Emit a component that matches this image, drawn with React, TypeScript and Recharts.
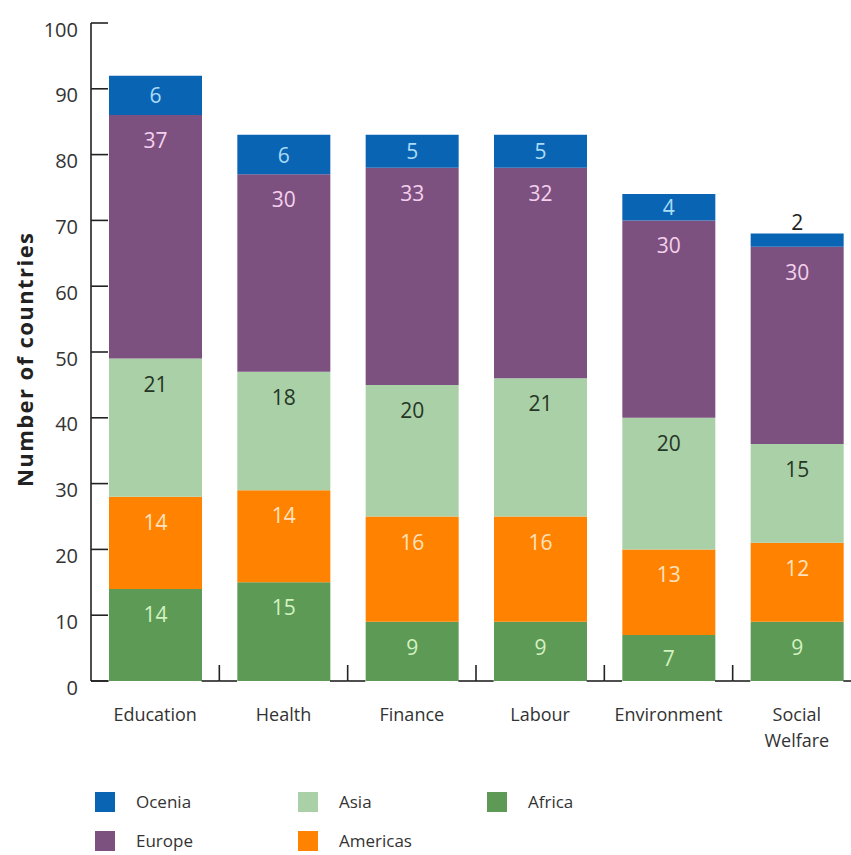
import { BarChart, Bar, XAxis, YAxis, LabelList } from "recharts";

const categories = ["Education", "Health", "Finance", "Labour", "Environment", "Social Welfare"];
const africa = [14, 15, 9, 9, 7, 9];
const americas = [14, 14, 16, 16, 13, 12];
const asia = [21, 18, 20, 21, 20, 15];
const europe = [37, 30, 33, 32, 30, 30];
const oceania = [6, 6, 5, 5, 4, 2];
const yTicks = [0, 10, 20, 30, 40, 50, 60, 70, 80, 90, 100];

// stacked bottom to top
const series = [
  { key: "africa", name: "Africa", values: africa, fill: "#5d9a56", text: "#d2f2c0" },
  { key: "americas", name: "Americas", values: americas, fill: "#ff8200", text: "#ffe2bf" },
  { key: "asia", name: "Asia", values: asia, fill: "#a9d0a6", text: "#263626" },
  { key: "europe", name: "Europe", values: europe, fill: "#7c5180", text: "#f4d0ec" },
  { key: "oceania", name: "Ocenia", values: oceania, fill: "#0a64b4", text: "#a9dcf6" },
];

const legendOrder = ["oceania", "asia", "africa", "europe", "americas"];

const data = categories.map((category, i) => {
  const row: Record<string, string | number> = { category };
  series.forEach((s) => {
    row[s.key] = s.values[i];
  });
  return row;
});

const CHART_W = 861;
const CHART_H = 760;
const Y_AXIS_W = 91;
const BAR_W = 93;
const BAND = (CHART_W - Y_AXIS_W) / categories.length;
const AXIS = "#222";
const TEXT = "#333";
const FONT = "'Open Sans', 'DejaVu Sans', sans-serif";

const YTick = (props: any) => {
  const { x, y, payload } = props;
  return (
    <g>
      <line x1={x} x2={x + 17} y1={y} y2={y} stroke={AXIS} strokeWidth={1.6} />
      <text x={x - 13} y={y + 6} textAnchor="end" dominantBaseline="central" fontSize={20} fill={TEXT} fontFamily={FONT}>
        {payload.value}
      </text>
    </g>
  );
};

// baseline only shows in the gaps between bars, plus an upward tick at each band edge
const XTick = (props: any) => {
  const { x, y, payload } = props;
  const name = String(payload.value);
  const lines = name.length > 12 ? name.split(" ") : [name];
  const half = BAND / 2;
  const bar = BAR_W / 2;
  return (
    <g>
      <line x1={x - half} x2={x - bar} y1={y} y2={y} stroke={AXIS} strokeWidth={1.6} />
      <line x1={x + bar} x2={x + half} y1={y} y2={y} stroke={AXIS} strokeWidth={1.6} />
      <line x1={x + half} x2={x + half} y1={y} y2={y - 16} stroke={AXIS} strokeWidth={1.6} />
      <text x={x} y={y + 33} textAnchor="middle" dominantBaseline="central" fontSize={18} fill={TEXT} fontFamily={FONT}>
        {lines.map((l, i) => (
          <tspan key={i} x={x} dy={i === 0 ? 0 : 26}>
            {l}
          </tspan>
        ))}
      </text>
    </g>
  );
};

const yTitle = (props: any) => {
  const vb = props.viewBox || { x: 0, y: 23, width: 91, height: 658 };
  const cx = vb.x + 24;
  const cy = vb.y + vb.height / 2 + 8;
  return (
    <text
      x={cx}
      y={cy}
      transform={`rotate(-90, ${cx}, ${cy})`}
      textAnchor="middle"
      dominantBaseline="central"
      fontSize={22}
      fontWeight="bold"
      fill="#222"
      fontFamily={FONT}
      textLength={254}
      lengthAdjust="spacing"
    >
      Number of countries
    </text>
  );
};

// value labels sit near the top of each segment; tiny segments get theirs above the bar
const segmentLabel = (color: string) => (props: any) => {
  const { x, y, width, height, value } = props;
  const cx = Number(x) + Number(width) / 2;
  const h = Number(height);
  if (h < 20) {
    return (
      <text x={cx} y={Number(y) - 12} textAnchor="middle" dominantBaseline="central" fontSize={21} fill="#222" fontFamily={FONT}>
        {value}
      </text>
    );
  }
  return (
    <text x={cx} y={Number(y) + Math.min(25, h / 2)} textAnchor="middle" dominantBaseline="central" fontSize={21} fill={color} fontFamily={FONT}>
      {value}
    </text>
  );
};

const legendCols = [95, 298, 487];
const legendRows = [802, 841];

function ChartLegend() {
  return (
    <>
      {legendOrder.map((key, i) => {
        const s = series.find((d) => d.key === key)!;
        const left = legendCols[i % 3];
        const top = legendRows[Math.floor(i / 3)];
        return (
          <div key={key}>
            <div style={{ position: "absolute", left, top: top - 10, width: 20, height: 20, background: s.fill }} />
            <div
              style={{
                position: "absolute",
                left: left + 41,
                top: top - 12,
                fontSize: 17,
                lineHeight: "24px",
                color: TEXT,
                fontFamily: FONT,
              }}
            >
              {s.name}
            </div>
          </div>
        );
      })}
    </>
  );
}

export default function App() {
  return (
    <div
      style={{
        position: "absolute",
        left: 0,
        top: 0,
        width: 851,
        height: 855,
        overflow: "hidden",
        background: "#fff",
        fontFamily: FONT,
      }}
    >
      <BarChart
        width={CHART_W}
        height={CHART_H}
        data={data}
        margin={{ top: 23, right: 0, bottom: 0, left: 0 }}
        barSize={BAR_W}
      >
        <XAxis
          dataKey="category"
          height={CHART_H - 681}
          axisLine={false}
          tickLine={false}
          tickSize={0}
          tickMargin={0}
          interval={0}
          tick={<XTick />}
        />
        <YAxis
          type="number"
          domain={[0, 100]}
          ticks={yTicks}
          width={Y_AXIS_W}
          axisLine={{ stroke: AXIS, strokeWidth: 1.6 }}
          tickLine={false}
          tickSize={0}
          tickMargin={0}
          interval={0}
          tick={<YTick />}
          label={yTitle}
        />
        {series.map((s) => (
          <Bar key={s.key} dataKey={s.key} name={s.name} stackId="countries" fill={s.fill} isAnimationActive={false}>
            <LabelList dataKey={s.key} content={segmentLabel(s.text)} />
          </Bar>
        ))}
      </BarChart>
      <ChartLegend />
    </div>
  );
}
